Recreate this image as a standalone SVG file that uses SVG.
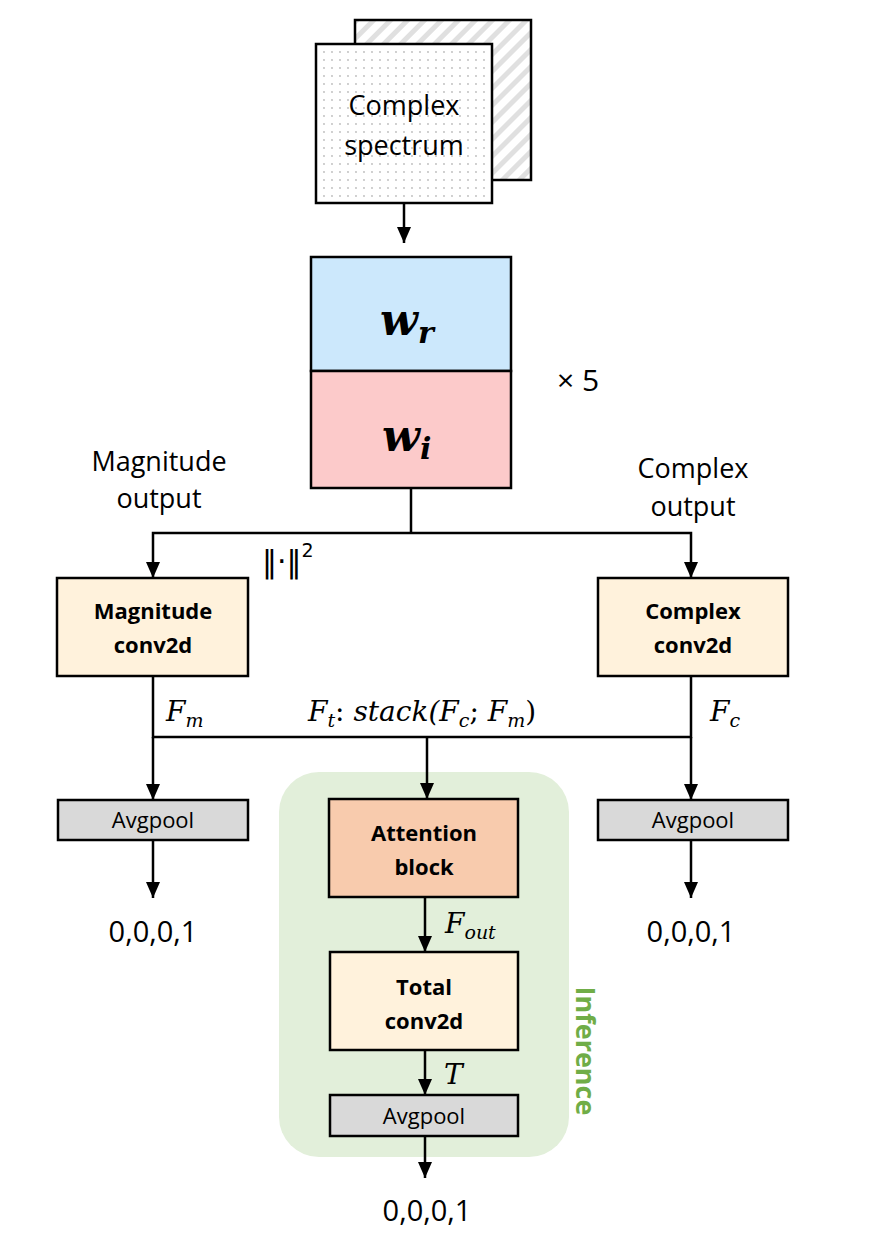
<svg xmlns="http://www.w3.org/2000/svg" width="872" height="1234" viewBox="0 0 872 1234">
<style>
.box{stroke:#000;stroke-width:2.5}
.ln{fill:none;stroke:#000;stroke-width:2.5}
.t{font-family:"Open Sans","Noto Sans",sans-serif;fill:#000;text-anchor:middle}
.b{font-weight:bold;font-size:22px}
.l{font-size:27px}
.ap{font-size:22px}
.m{font-family:"DejaVu Serif","Liberation Serif",serif;font-style:italic;fill:#000}
</style>
<defs>
<pattern id="dots" width="8" height="8" patternUnits="userSpaceOnUse">
<rect width="8" height="8" fill="#fff"/>
<circle cx="4" cy="4" r="0.9" fill="#bbb"/>
</pattern>
<pattern id="hatch" width="12" height="12" patternUnits="userSpaceOnUse" patternTransform="rotate(45)">
<rect width="12" height="12" fill="#fff"/>
<rect x="0" y="0" width="5" height="12" fill="#e0e0e0"/>
</pattern>
<marker id="a" viewBox="0 0 16 14" refX="16" refY="7" markerWidth="16" markerHeight="14" orient="auto" markerUnits="userSpaceOnUse">
<path d="M0,0 L16,7 L0,14 Z" fill="#000"/>
</marker>
</defs>

<g id="inference">
<rect x="279" y="772" width="290" height="385" rx="40" fill="#e2efda"/>
<text transform="translate(576,1051) rotate(90)" class="t" style="font-weight:bold;font-size:27px;fill:#70ad47">Inference</text>
</g>

<g id="spectrum">
<rect x="355" y="20" width="176" height="160" class="box" fill="url(#hatch)"/>
<rect x="316" y="44" width="176" height="159" class="box" fill="url(#dots)"/>
<text x="404" y="115" class="t" style="font-size:27px">Complex</text>
<text x="404" y="155" class="t" style="font-size:27px">spectrum</text>
</g>

<g id="weights">
<rect x="311" y="257" width="200" height="114" class="box" fill="#cce8fc"/>
<rect x="311" y="371" width="200" height="117" class="box" fill="#fccaca"/>
<text x="380" y="335" style="font-family:'DejaVu Serif',serif;font-style:italic;font-weight:bold;font-size:44px">w<tspan font-size="30" dy="8">r</tspan></text>
<text x="382" y="451" style="font-family:'DejaVu Serif',serif;font-style:italic;font-weight:bold;font-size:44px">w<tspan font-size="30" dy="8">i</tspan></text>
<text x="578" y="391" class="t" style="font-size:30px">× 5</text>
</g>

<g id="labels">
<text x="159" y="471" class="t l">Magnitude</text>
<text x="159" y="508" class="t l">output</text>
<text x="693" y="478" class="t l">Complex</text>
<text x="693" y="516" class="t l">output</text>
<text x="262" y="572" style="font-family:'DejaVu Sans',sans-serif;font-size:30px">‖·‖<tspan font-size="19" dy="-15">2</tspan></text>
<text x="166" y="721" class="m" style="font-size:28px">F<tspan font-size="19" dy="6">m</tspan></text>
<text x="308" y="721" class="m" style="font-size:28px">F<tspan font-size="19" dy="6">t</tspan><tspan dy="-6" font-style="normal">: </tspan>stack(F<tspan font-size="19" dy="6">c</tspan><tspan dy="-6" font-style="normal">; </tspan>F<tspan font-size="19" dy="6">m</tspan><tspan dy="-6" font-style="normal">)</tspan></text>
<text x="710" y="721" class="m" style="font-size:28px">F<tspan font-size="19" dy="6">c</tspan></text>
<text x="445" y="933" class="m" style="font-size:28px">F<tspan font-size="19" dy="6">out</tspan></text>
<text x="444" y="1084" class="m" style="font-size:28px">T</text>
</g>

<g id="mag-conv">
<rect x="57" y="578" width="191" height="98" class="box" fill="#fff2dc"/>
<text x="153" y="619" class="t b">Magnitude</text>
<text x="153" y="653" class="t b">conv2d</text>
</g>
<g id="cplx-conv">
<rect x="598" y="578" width="190" height="98" class="box" fill="#fff2dc"/>
<text x="693" y="619" class="t b">Complex</text>
<text x="693" y="653" class="t b">conv2d</text>
</g>

<g id="avg-left">
<rect x="58" y="800" width="190" height="40" class="box" fill="#d9d9d9"/>
<text x="153" y="828" class="t ap">Avgpool</text>
</g>
<g id="avg-right">
<rect x="598" y="800" width="190" height="40" class="box" fill="#d9d9d9"/>
<text x="693" y="828" class="t ap">Avgpool</text>
</g>

<g id="attention">
<rect x="329" y="799" width="189" height="98" class="box" fill="#f8cbad"/>
<text x="424" y="841" class="t b">Attention</text>
<text x="424" y="875" class="t b">block</text>
</g>
<g id="total-conv">
<rect x="330" y="952" width="188" height="98" class="box" fill="#fff2dc"/>
<text x="424" y="995" class="t b">Total</text>
<text x="424" y="1029" class="t b">conv2d</text>
</g>
<g id="avg-center">
<rect x="330" y="1095" width="188" height="41" class="box" fill="#d9d9d9"/>
<text x="424" y="1124" class="t ap">Avgpool</text>
</g>

<g id="outputs">
<text x="153" y="942" class="t" style="font-size:29px">0,0,0,1</text>
<text x="691" y="942" class="t" style="font-size:29px">0,0,0,1</text>
<text x="427" y="1221" class="t" style="font-size:29px">0,0,0,1</text>
</g>

<g id="connectors">
<path class="ln" d="M404,203 V243" marker-end="url(#a)"/>
<path class="ln" d="M411,488 V533"/>
<path class="ln" d="M411,533 H153 V578" marker-end="url(#a)"/>
<path class="ln" d="M411,533 H691 V578" marker-end="url(#a)"/>
<path class="ln" d="M153,676 V737 H691 V676"/>
<path class="ln" d="M153,737 V800" marker-end="url(#a)"/>
<path class="ln" d="M691,737 V800" marker-end="url(#a)"/>
<path class="ln" d="M427,737 V799" marker-end="url(#a)"/>
<path class="ln" d="M153,840 V898" marker-end="url(#a)"/>
<path class="ln" d="M691,840 V898" marker-end="url(#a)"/>
<path class="ln" d="M425,897 V952" marker-end="url(#a)"/>
<path class="ln" d="M425,1050 V1095" marker-end="url(#a)"/>
<path class="ln" d="M425,1136 V1178" marker-end="url(#a)"/>
</g>
</svg>
